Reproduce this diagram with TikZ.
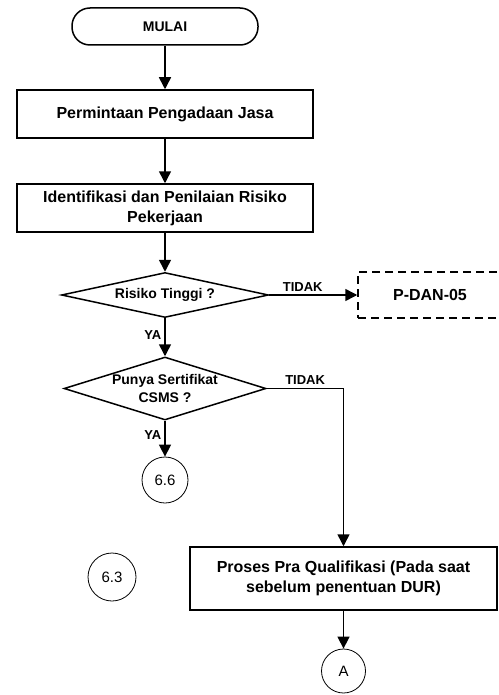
\documentclass[tikz,border=0pt]{standalone}
\usepackage{fontspec}
\setmainfont{Liberation Sans}
\usetikzlibrary{arrows.meta,shapes.geometric}

\tikzset{
  every node/.style={font=\fontsize{16}{20}\selectfont\bfseries},
  terminal/.style={draw, line width=1.5pt, rounded corners=18pt,
    minimum width=186pt, minimum height=37pt, inner sep=0pt,
    font=\fontsize{14}{17}\selectfont\bfseries},
  procbox/.style={draw, line width=1.5pt, minimum width=296pt,
    minimum height=48pt, inner sep=0pt, align=center},
  refbox/.style={draw, line width=1.5pt, dash pattern=on 8pt off 5pt,
    minimum width=144pt, minimum height=46pt, inner sep=0pt},
  decision/.style={draw, line width=1.5pt, shape=diamond, inner sep=0pt},
  dtext/.style={font=\fontsize{14}{18}\selectfont\bfseries, align=center, inner sep=0pt},
  connector/.style={draw, circle, line width=0.8pt, inner sep=0pt,
    font=\fontsize{15}{18}\selectfont},
  lbl/.style={font=\fontsize{13}{15}\selectfont\bfseries, inner sep=3pt},
  arr/.style={line width=1.5pt, -{Triangle[width=12pt,length=12pt]}},
  line/.style={line width=1.5pt}
}

\begin{document}
\begin{tikzpicture}[x=1pt, y=-1pt]
  \useasboundingbox (0,0) rectangle (498,695);

  % process steps
  \node[terminal] (start) at (165,26.5) {MULAI};
  \node[procbox] (req) at (165,114) {Permintaan Pengadaan Jasa};
  \node[procbox] (risk) at (165,208) {Identifikasi dan Penilaian Risiko\\Pekerjaan};

  % decisions
  \node[decision, minimum width=207pt, minimum height=45pt,
        label={[dtext]center:Risiko Tinggi ?}] (high) at (165,295) {};
  \node[decision, minimum width=202pt, minimum height=63pt,
        label={[dtext]center:Punya Sertifikat\\CSMS ?}] (csms) at (165,388.5) {};

  % referenced procedure
  \node[refbox] (pdan) at (430,295) {P-DAN-05};

  % prequalification
  \node[procbox, minimum width=307pt, minimum height=63pt] (preq) at (343.5,578.5)
    {Proses Pra Qualifikasi (Pada saat\\sebelum penentuan DUR)};

  % off-page connectors
  \node[connector, minimum size=46pt] (c66) at (165,480) {6.6};
  \node[connector, minimum size=48pt] (c63) at (112,577) {6.3};
  \node[connector, minimum size=44pt] (cA) at (343.5,671) {A};

  % flow
  \draw[arr] (start) -- (req);
  \draw[arr] (req) -- (risk);
  \draw[arr] (risk) -- (high);
  \draw[arr] (high) -- node[lbl, above, pos=0.38] {TIDAK} (pdan);
  \draw[arr] (high) -- node[lbl, left, pos=0.45] {YA} (csms);
  \draw[arr] (csms.east) -| node[lbl, above, pos=0.25] {TIDAK} (preq);
  \draw[arr] (csms) -- node[lbl, left, pos=0.4] {YA} (c66);
  \draw[arr] (preq) -- (cA);
\end{tikzpicture}
\end{document}
